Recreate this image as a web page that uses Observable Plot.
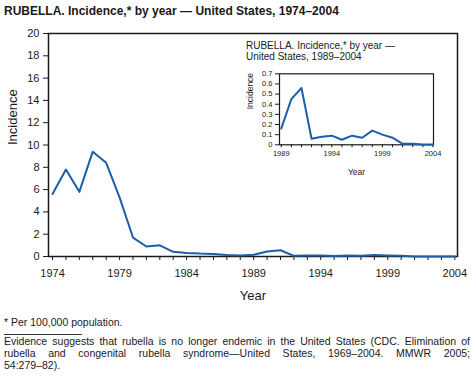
<!DOCTYPE html>
<html>
<head>
<meta charset="utf-8">
<script src="https://cdn.jsdelivr.net/npm/d3@7"></script>
<script src="https://cdn.jsdelivr.net/npm/@observablehq/plot@0.6"></script>
<style>
  html, body { margin: 0; padding: 0; background: #fff; }
  body { width: 474px; height: 376px; position: relative; overflow: hidden;
         font-family: "Liberation Sans", Arial, sans-serif; color: #1a1a1a; }
  .abs { position: absolute; }
  #title { left: 4px; top: 4px; font-size: 12px; line-height: 14px; font-weight: bold; white-space: nowrap; }
  #main { left: 0; top: 20px; }
  #inset { left: 236px; top: 62px; }
  #insetTitle { left: 246px; top: 39.5px; font-size: 10px; line-height: 11px; white-space: nowrap; }
  #fn1 { left: 4px; top: 316.4px; font-size: 10.5px; line-height: 12px; white-space: nowrap; }
  #rule { left: 4px; top: 333.5px; width: 78px; border-top: 1px solid #333; }
  #fn2 { left: 4px; top: 336px; width: 466px; font-size: 10.5px; line-height: 11.8px; }
  #fn2 .j { text-align: justify; text-align-last: justify; white-space: nowrap; }
</style>
</head>
<body>
<div id="title" class="abs">RUBELLA. Incidence,* by year — United States, 1974–2004</div>
<div id="main" class="abs"></div>
<div id="inset" class="abs"></div>
<div id="insetTitle" class="abs">RUBELLA. Incidence,* by year —<br>United States, 1989–2004</div>
<div id="fn1" class="abs">* Per 100,000 population.</div>
<div id="rule" class="abs"></div>
<div id="fn2" class="abs"><div class="j">Evidence suggests that rubella is no longer endemic in the United States (CDC. Elimination of</div><div class="j">rubella and congenital rubella syndrome—United States, 1969–2004. MMWR 2005;</div><div>54:279–82).</div></div>
<script>
// ---- data ----
const years = [1974, 1975, 1976, 1977, 1978, 1979, 1980, 1981, 1982, 1983,
               1984, 1985, 1986, 1987, 1988, 1989, 1990, 1991, 1992, 1993,
               1994, 1995, 1996, 1997, 1998, 1999, 2000, 2001, 2002, 2003, 2004];
const incidence = [5.6, 7.8, 5.8, 9.4, 8.4, 5.3, 1.7, 0.9, 1.0, 0.42,
                   0.32, 0.26, 0.23, 0.13, 0.09, 0.16, 0.45, 0.56, 0.06, 0.08,
                   0.09, 0.05, 0.09, 0.07, 0.14, 0.10, 0.07, 0.01, 0.01, 0.003, 0.004];
const mainYTicks = [0, 2, 4, 6, 8, 10, 12, 14, 16, 18, 20];
const mainXLabels = [1974, 1979, 1984, 1989, 1994, 1999, 2004];
const insetYTicks = [0, 0.1, 0.2, 0.3, 0.4, 0.5, 0.6, 0.7];
const insetYLabels = ["0", "0.1", "0.2", "0.3", "0.4", "0.5", "0.6", "0.7"];
const insetXLabels = [1989, 1994, 1999, 2004];
const insetStart = 1989;

const data = years.map((y, i) => ({year: y, value: incidence[i]}));
const insetData = data.filter(d => d.year >= insetStart);
const insetYears = insetData.map(d => d.year);

const lineColor = "#1c5fa8";
const ink = "#1a1a1a";

const mainPlot = Plot.plot({
  width: 474, height: 290,
  marginLeft: 48, marginRight: 17, marginTop: 13, marginBottom: 54,
  style: {fontFamily: "Liberation Sans, Arial, sans-serif", color: ink, background: "transparent"},
  x: {domain: [1973.7, 2004.2]},
  y: {domain: [0, 20]},
  marks: [
    Plot.axisY({ticks: mainYTicks, tickSize: 5, tickPadding: 4, fontSize: 11, label: null, tickFormat: d => String(d)}),
    Plot.axisX({ticks: years, tickSize: 4, tickPadding: 9, fontSize: 11, label: null,
                tickFormat: d => mainXLabels.includes(d) ? String(d) : ""}),
    Plot.frame({stroke: ink, strokeWidth: 1.5}),
    Plot.line(data, {x: "year", y: "value", stroke: lineColor, strokeWidth: 2}),
    Plot.text(["Year"], {frameAnchor: "bottom", dy: 43, lineAnchor: "bottom", fontSize: 13, fill: ink}),
    Plot.text(["Incidence"], {frameAnchor: "left", rotate: -90, dx: -36, fontSize: 13, fill: ink})
  ]
});
document.getElementById("main").appendChild(mainPlot);

const insetPlot = Plot.plot({
  width: 214, height: 120,
  marginLeft: 43, marginRight: 17, marginTop: 11.3, marginBottom: 37.7,
  style: {fontFamily: "Liberation Sans, Arial, sans-serif", color: ink, background: "transparent"},
  x: {domain: [1988.83, 2004.05]},
  y: {domain: [0, 0.7]},
  marks: [
    Plot.axisY({ticks: insetYTicks, tickSize: 4, tickPadding: 3, fontSize: 7.5, label: null,
                tickFormat: (d, i) => insetYLabels[i]}),
    Plot.axisX({ticks: insetYears, tickSize: 3, tickPadding: 3, fontSize: 7.5, label: null,
                tickFormat: d => insetXLabels.includes(d) ? String(d) : ""}),
    Plot.frame({stroke: ink, strokeWidth: 1.2}),
    Plot.line(insetData, {x: "year", y: "value", stroke: lineColor, strokeWidth: 2}),
    Plot.text(["Year"], {frameAnchor: "bottom", dy: 30, lineAnchor: "bottom", fontSize: 8.5, fill: ink}),
    Plot.text(["Incidence"], {frameAnchor: "left", rotate: -90, dx: -29, fontSize: 8.5, fill: ink})
  ]
});
document.getElementById("inset").appendChild(insetPlot);
</script>
</body>
</html>
